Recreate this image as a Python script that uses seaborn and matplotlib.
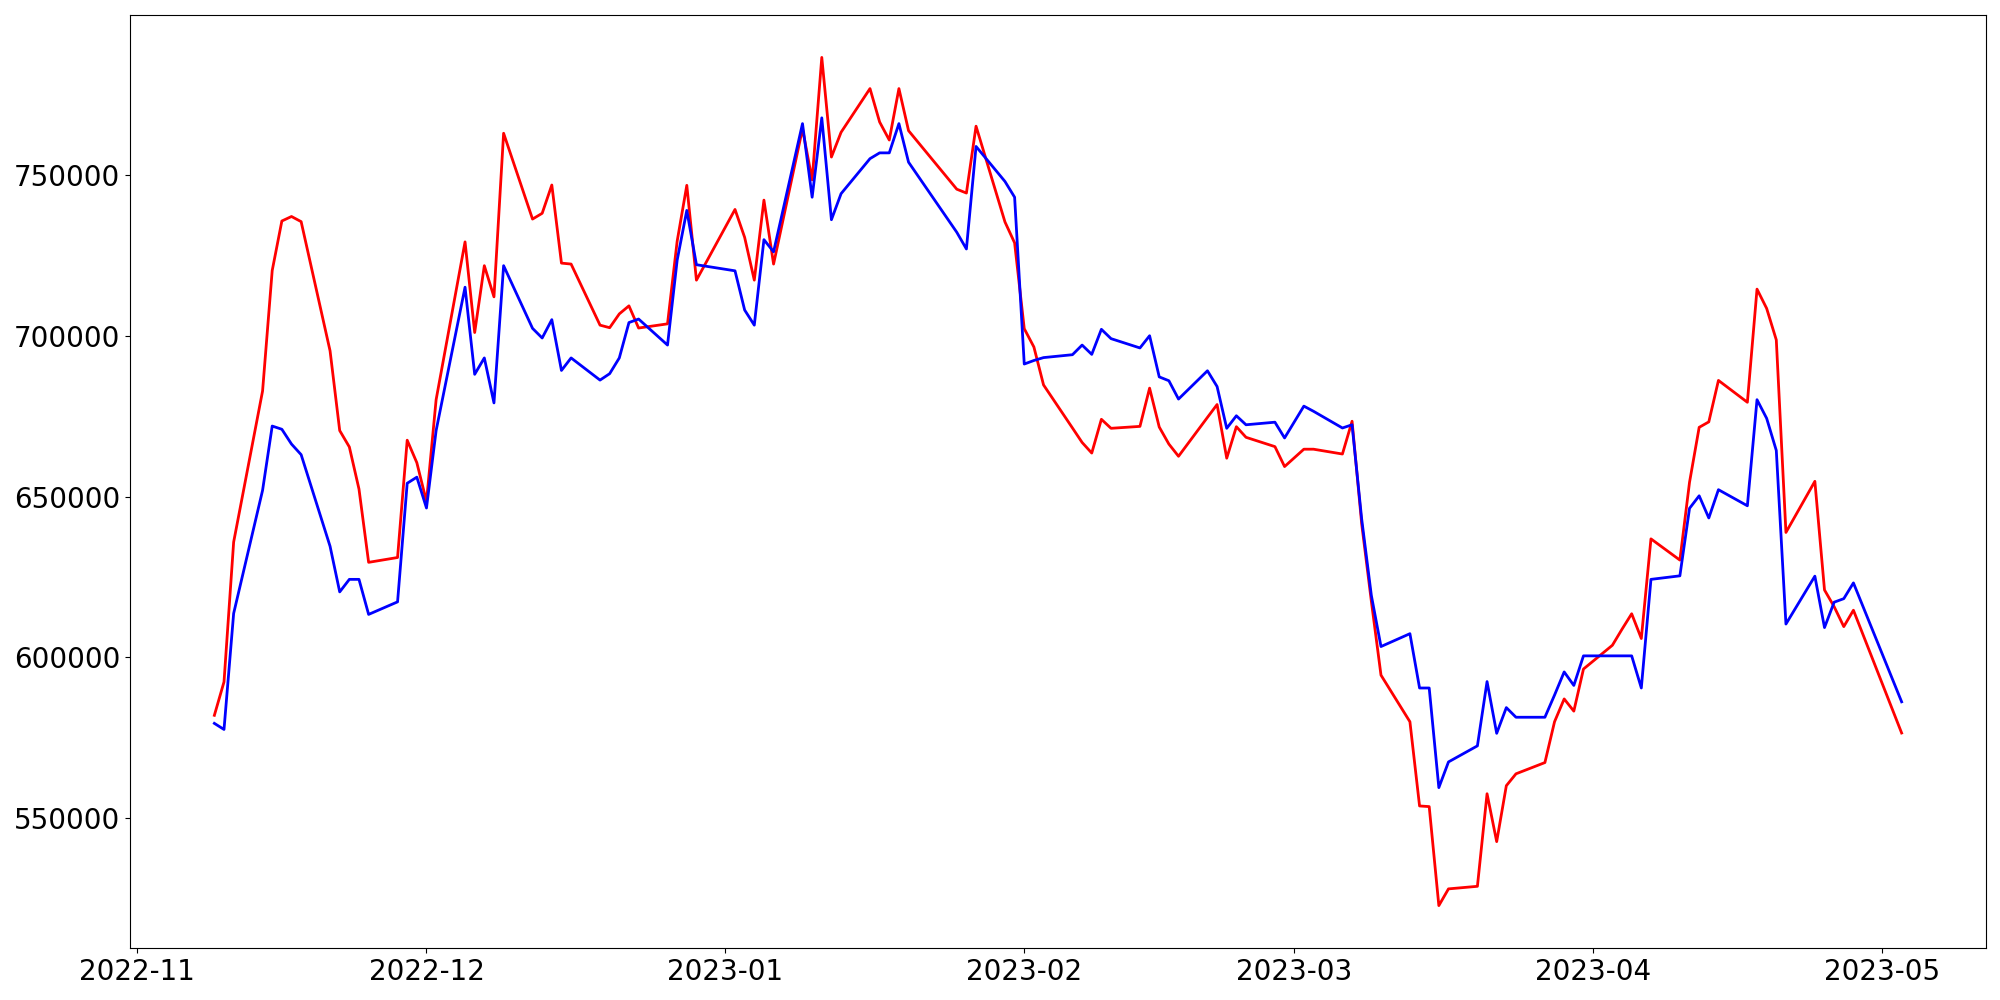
import pandas as pd
import seaborn as sns
import matplotlib
matplotlib.use("Agg")
import matplotlib.pyplot as plt

# trading days (Nov 2022 - May 2023)
nov = ["2022-11-%02d" % d for d in [9, 10, 11, 14, 15, 16, 17, 18, 21, 22, 23, 24, 25, 28, 29, 30]]
dec = ["2022-12-%02d" % d for d in [1, 2, 5, 6, 7, 8, 9, 12, 13, 14, 15, 16, 19, 20, 21, 22, 23, 26, 27, 28, 29]]
jan = ["2023-01-%02d" % d for d in [2, 3, 4, 5, 6, 9, 10, 11, 12, 13, 16, 17, 18, 19, 20, 25, 26, 27, 30, 31]]
feb = ["2023-02-%02d" % d for d in [1, 2, 3, 6, 7, 8, 9, 10, 13, 14, 15, 16, 17, 20, 21, 22, 23, 24, 27, 28]]
mar = ["2023-03-%02d" % d for d in [2, 3, 6, 7, 8, 9, 10, 13, 14, 15, 16, 17, 20, 21, 22, 23, 24, 27, 28, 29, 30, 31]]
apr = ["2023-04-%02d" % d for d in [3, 4, 5, 6, 7, 10, 11, 12, 13, 14, 17, 18, 19, 20, 21, 24, 25, 26, 27, 28]]
may = ["2023-05-03"]
dates = pd.to_datetime(nov + dec + jan + feb + mar + apr + may)

red_vals = [
    582000, 592400, 635900, 682900, 720400, 735800, 737200, 735600, 695400, 670600, 665500, 652400, 629600, 631100, 667600, 660600,
    648500, 680200, 729300, 701100, 721900, 712200, 763100, 736400, 738200, 747000, 722700, 722400, 703400, 702600, 706900, 709400, 702500, 703800, 729500, 746900, 717400,
    739400, 730700, 717400, 742300, 722400, 764500, 748600, 786700, 755700, 763400, 777000, 766600, 761000, 777000, 763900, 745700, 744500, 765300, 735500, 729000,
    702300, 696600, 684800, 671400, 666900, 663600, 674100, 671300, 671900, 683800, 671700, 666400, 662600, 674700, 678700, 662000, 671800, 668500, 665600, 659400,
    664800, 664800, 663300, 673500, 641500, 617500, 594500, 580000, 553800, 553600, 522800, 528000, 528800, 557600, 542700, 560100, 563800, 567300, 580000, 587100, 583300, 596400,
    603800, 608800, 613600, 605900, 636900, 630300, 654500, 671600, 673300, 686200, 679400, 714600, 708600, 698800, 638900, 654800, 621000, 615800, 609600, 614700,
    576500,
]

blue_vals = [
    579500, 577600, 613700, 652000, 672000, 671000, 666400, 663100, 634600, 620400, 624300, 624300, 613400, 617300, 654200, 656100,
    646500, 670600, 715200, 688100, 693200, 679200, 721900, 702400, 699400, 705100, 689300, 693200, 686300, 688300, 693200, 704200, 705300, 697200, 723600, 739100, 722200,
    720300, 708100, 703400, 730000, 726200, 766100, 743200, 767900, 736200, 744300, 755200, 757000, 757000, 766100, 754100, 732300, 727100, 759000, 748100, 743200,
    691300, 692400, 693300, 694200, 697200, 694300, 702100, 699200, 696300, 700100, 687300, 686100, 680400, 689200, 684300, 671300, 675200, 672400, 673200, 668300,
    678200, 676600, 671400, 672400, 643000, 619300, 603400, 607400, 590500, 590500, 559500, 567500, 572500, 592500, 576400, 584400, 581400, 581400, 588300, 595500, 591300, 600500,
    600500, 600500, 600500, 590500, 624300, 625400, 646400, 650300, 643400, 652200, 647200, 680200, 674400, 664400, 610400, 625300, 609300, 617200, 618300, 623200,
    586200,
]

df = pd.DataFrame({"date": dates, "red": red_vals, "blue": blue_vals})

fig, ax = plt.subplots(figsize=(20, 10), dpi=100)

sns.lineplot(x="date", y="red", data=df, color="red", linewidth=2, ax=ax)
sns.lineplot(x="date", y="blue", data=df, color="blue", linewidth=2, ax=ax)

ax.set_xlabel("")
ax.set_ylabel("")
ax.tick_params(labelsize=20)

plt.subplots_adjust(left=0.065, right=0.993, top=0.985, bottom=0.052)
plt.savefig("out.png")
